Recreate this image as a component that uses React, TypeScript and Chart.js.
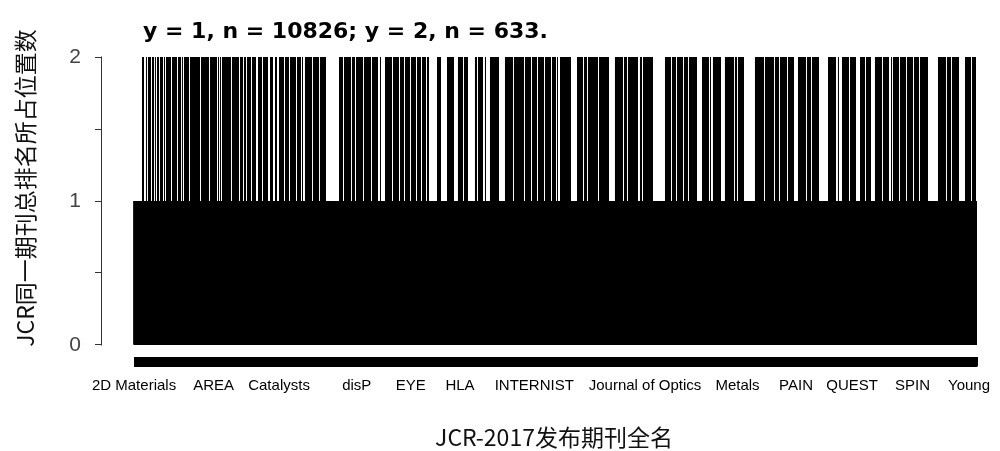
import React, { useEffect, useRef } from "react";
import { Chart, registerables } from "chart.js";

Chart.register(...registerables);

// ---- data ----
const N_JOURNALS = 11459; // journals on the x axis (y = 1 or y = 2)

// index ranges (inclusive) of journals whose value is 2
const TWO_RUNS: [number, number][] = [
  [115, 128], [169, 169], [196, 224], [251, 264], [291, 291], [319, 332], [359, 387], [414, 414],
  [441, 495], [523, 577], [604, 631], [658, 658], [686, 740], [767, 890], [917, 1012], [1039, 1121],
  [1148, 1148], [1175, 1175], [1202, 1311], [1338, 1420], [1447, 1474], [1501, 1515], [1542, 1583],
  [1610, 1651], [1692, 1732], [1760, 1814], [1855, 1882],
  [1923, 1936], [1977, 2031], [2059, 2099], [2127, 2194], [2222, 2262], [2290, 2290], [2330, 2412],
  [2439, 2507], [2534, 2602], [2793, 2833], [2861, 2942], [2969, 2996], [3024, 3105], [3132, 3214],
  [3241, 3309], [3350, 3350], [3418, 3499], [3527, 3595], [3622, 3662], [3690, 3744], [3771, 3826],
  [3853, 3894], [3921, 3962], [3989, 4002], [4125, 4165], [4261, 4342], [4410, 4465], [4492, 4532],
  [4641, 4655], [4682, 4736], [4777, 4777], [4845, 4954], [5049, 5144], [5171, 5294], [5321, 5389],
  [5416, 5470], [5498, 5566], [5593, 5661], [5688, 5729],
  [5756, 5756], [5797, 5933], [6028, 6096], [6123, 6150], [6177, 6300], [6327, 6449], [6544, 6639],
  [6667, 6694], [6721, 6843], [6884, 6898], [6925, 7047], [7224, 7292], [7319, 7360], [7387, 7455],
  [7482, 7523], [7550, 7645],
  [7727, 7808], [7836, 7836], [7876, 7971], [8039, 8148], [8175, 8189], [8216, 8284], [8447, 8556],
  [8583, 8692], [8719, 8760], [8787, 8869], [8896, 8964], [9032, 9127], [9154, 9195], [9222, 9304],
  [9440, 9535],
  [9575, 9575], [9630, 9711], [9739, 9807], [9875, 9929], [9956, 10010], [10078, 10160],
  [10187, 10255], [10296, 10296], [10323, 10391], [10418, 10486], [10513, 10581], [10609, 10663],
  [10690, 10785], [10935, 11030], [11057, 11098], [11125, 11207], [11302, 11370], [11397, 11438],
];

// journal names that are printed under the axis, and their positions in the list
const LABEL_INDEX = [0, 1081, 1971, 3027, 3763, 4431, 5440, 6946, 8203, 8999, 9760, 10582, 11350];
const LABEL_NAMES = [
  "2D Materials", "AREA", "Catalysts", "disP", "EYE", "HLA", "INTERNIST",
  "Journal of Optics", "Metals", "PAIN", "QUEST", "SPIN", "Young",
];

const Y_TICKS = [0, 0.5, 1, 1.5, 2];
const Y_LABELED = [0, 1, 2];

const TITLE_TEXT = "y = 1, n = 10826; y = 2, n = 633.";
const X_TITLE = "JCR-2017发布期刊全名";
const Y_TITLE = "JCR同一期刊总排名所占位置数";

// axis limits (R-style 4% padding on y; x room for the y axis gap)
const X_MIN = -435.5;
const X_MAX = N_JOURNALS - 0.5;
const Y_MIN = -0.08;
const Y_MAX = 2.08;

export default function App() {
  const ref = useRef<HTMLCanvasElement>(null);

  useEffect(() => {
    if (!ref.current) return;
    const values: number[] = new Array(N_JOURNALS).fill(1);
    for (const [a, b] of TWO_RUNS) for (let i = a; i <= b; i++) values[i] = 2;
    const points = values.map((y, i) => ({ x: i, y }));
    const labelMap = new Map<number, string>(LABEL_INDEX.map((v, k) => [v, LABEL_NAMES[k]]));

    const textPlugin = {
      id: "rTexts",
      afterDraw(chart: any) {
        const { ctx, chartArea, scales } = chart;
        const ys = scales.y;
        ctx.save();
        // y axis line spanning the tick range (R style)
        ctx.strokeStyle = "#333";
        ctx.lineWidth = 1;
        ctx.beginPath();
        const ax = chartArea.left - 0.5;
        ctx.moveTo(ax, Math.round(ys.getPixelForValue(Y_TICKS[0])) + 0.5);
        ctx.lineTo(ax, Math.round(ys.getPixelForValue(Y_TICKS[Y_TICKS.length - 1])) - 0.5);
        ctx.stroke();

        // main title
        ctx.fillStyle = "#000";
        ctx.font = "bold 22px 'DejaVu Sans'";
        ctx.textAlign = "left";
        ctx.textBaseline = "alphabetic";
        ctx.fillText(TITLE_TEXT, 143, 38);

        // x axis title
        ctx.fillStyle = "#111";
        ctx.font = "23px 'Noto Sans CJK SC'";
        ctx.textAlign = "center";
        ctx.textBaseline = "middle";
        ctx.fillText(X_TITLE, 554, 437);

        // y axis title
        ctx.translate(25, 188);
        ctx.rotate(-Math.PI / 2);
        ctx.fillText(Y_TITLE, 0, 0);
        ctx.restore();
      },
    };

    const chart = new Chart(ref.current, {
      type: "bar",
      data: {
        datasets: [
          {
            data: points as any,
            backgroundColor: "#000",
            borderWidth: 0,
            barThickness: 1,
            inflateAmount: 0,
          } as any,
        ],
      },
      options: {
        animation: false,
        responsive: false,
        events: [],
        layout: { padding: { top: 45.5, right: 23, left: 0, bottom: 0 } },
        plugins: {
          legend: { display: false },
          tooltip: { enabled: false },
          title: { display: false },
        },
        scales: {
          x: {
            type: "linear",
            min: X_MIN,
            max: X_MAX,
            offset: false,
            afterBuildTicks: (s: any) => {
              s.ticks = values.map((_, i) => ({ value: i }));
            },
            afterFit: (s: any) => {
              s.height = 94.5;
            },
            grid: { drawOnChartArea: false, drawTicks: true, tickLength: 10, color: "#000", lineWidth: 1 },
            border: { display: false },
            ticks: {
              autoSkip: false,
              maxRotation: 0,
              minRotation: 0,
              padding: 10,
              color: "#000",
              font: { family: "'Liberation Sans', Arial, sans-serif", size: 15 },
              callback: (v: any) => labelMap.get(v) ?? "",
            },
          },
          y: {
            min: Y_MIN,
            max: Y_MAX,
            afterBuildTicks: (s: any) => {
              s.ticks = Y_TICKS.map((v) => ({ value: v }));
            },
            afterFit: (s: any) => {
              s.width = 102;
            },
            grid: { drawOnChartArea: false, drawTicks: true, tickLength: 7, color: "#333", lineWidth: 1 },
            border: { display: false },
            ticks: {
              padding: 14,
              color: "#444",
              font: { family: "'Liberation Sans', Arial, sans-serif", size: 21 },
              callback: (v: any) => (Y_LABELED.includes(v) ? String(v) : ""),
            },
          },
        },
      } as any,
      plugins: [textPlugin],
    });
    return () => chart.destroy();
  }, []);

  return (
    <div style={{ position: "fixed", left: 0, top: 0, width: 1000, height: 451, background: "#fff" }}>
      <canvas ref={ref} width={1000} height={451} style={{ display: "block", width: 1000, height: 451 }} />
    </div>
  );
}
